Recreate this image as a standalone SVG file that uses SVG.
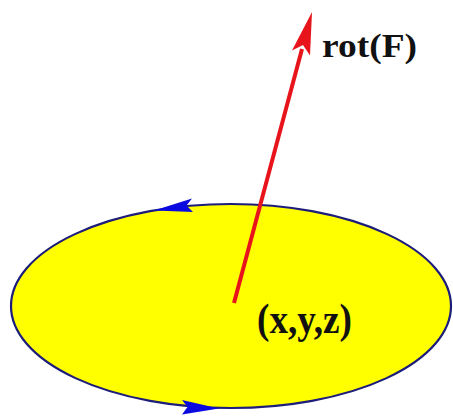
<svg xmlns="http://www.w3.org/2000/svg" width="453" height="418" viewBox="0 0 453 418">
<style>
.lbl{font-family:"Liberation Serif","Times New Roman",serif;font-weight:bold;fill:#111}
.loop{fill:#ffff00;stroke:#1c1c7a;stroke-width:2.2}
.bh{fill:#0a0ae0;stroke:none}
.vec{stroke:#e8141c;stroke-width:4;fill:none}
.vh{fill:#e8141c;stroke:none}
</style>
<rect width="453" height="418" fill="#ffffff"/>
<g id="surface">
<ellipse class="loop" cx="231" cy="306" rx="220" ry="102"/>
</g>
<g id="connectors">
<path class="bh" d="M154,210.5 L192,198.5 L186.5,205.5 L193,212 Z"/>
<path class="bh" d="M219,408.5 L182,400 L187.5,407 L182,414.5 Z"/>
<line class="vec" x1="234" y1="303" x2="302" y2="49"/>
<path class="vh" d="M312,12 L292,50.5 L303,45 L310,55.5 Z"/>
</g>
<g id="label-rot">
<text class="lbl" x="322" y="57" font-size="34" textLength="95" lengthAdjust="spacingAndGlyphs">rot(F)</text>
</g>
<g id="label-point">
<text class="lbl" x="257" y="333" font-size="42" textLength="95" lengthAdjust="spacingAndGlyphs">(x,y,z)</text>
</g>
</svg>
